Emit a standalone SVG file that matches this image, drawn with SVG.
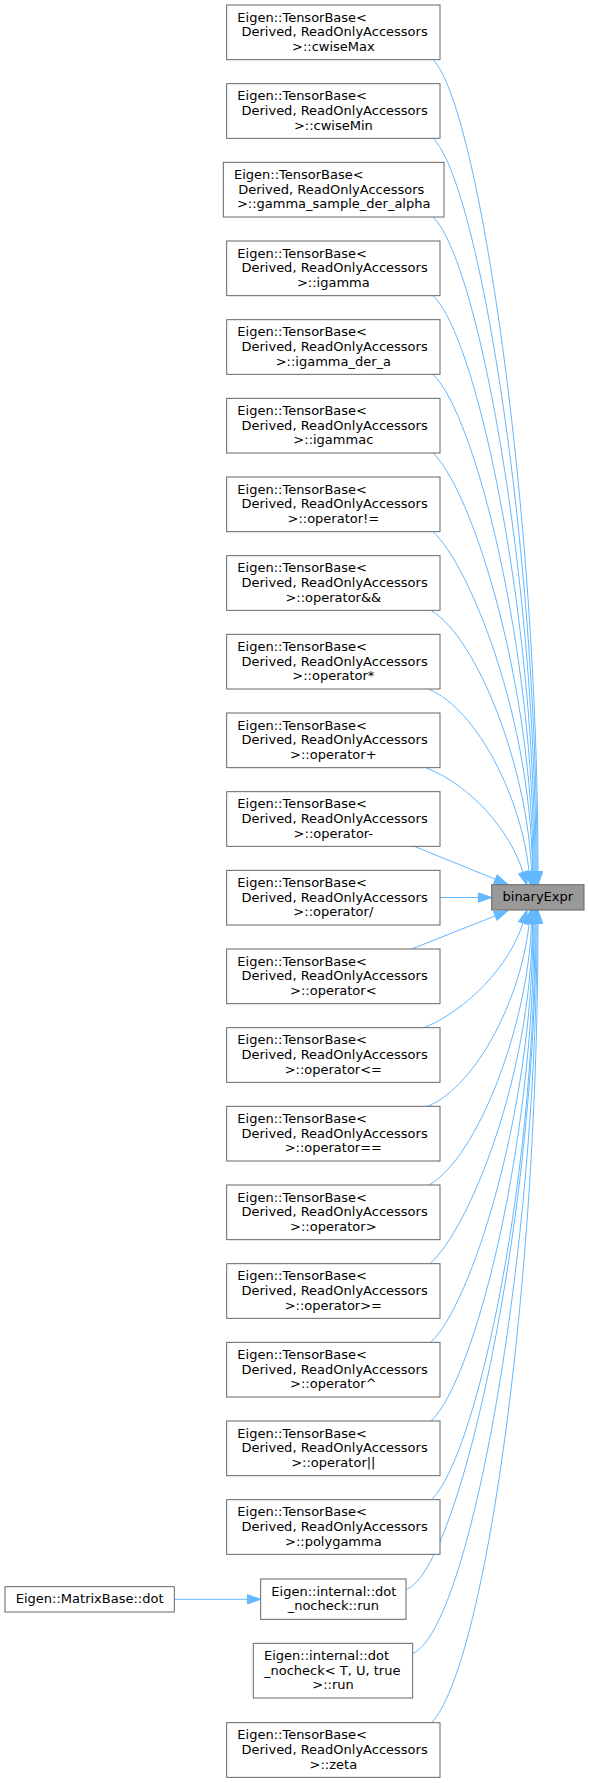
<svg xmlns="http://www.w3.org/2000/svg" width="589" height="1783" viewBox="0 0 589 1783">
<style>
.n rect{fill:#ffffff;stroke:#666666;stroke-width:1}
.cur rect{fill:#999999;stroke:#666666;stroke-width:1}
text{font-family:"DejaVu Sans","Liberation Sans",sans-serif;font-size:13px;fill:#000000}
.m{text-anchor:middle}
.e{fill:none;stroke:#63b8ff;stroke-width:1;marker-end:url(#ah)}
</style>
<defs>
<marker id="ah" markerUnits="userSpaceOnUse" markerWidth="14" markerHeight="10" refX="0" refY="4.67" orient="auto" overflow="visible">
<path d="M0,0 L13.33,4.67 L0,9.33 Z" fill="#63b8ff" stroke="#63b8ff" stroke-width="1"/>
</marker>
</defs>
<rect width="589" height="1783" fill="#ffffff"/>
<g id="edges">
<path class="e" d="M433,59.67 C478,104 538,506.7 538,871.7"/>
<path class="e" d="M433,138.33 C478,181 537,541.7 537,871.7"/>
<path class="e" d="M433,217 C478,260 536,577 536,871.7"/>
<path class="e" d="M433,295.67 C477,337 535,612.5 535,871.7"/>
<path class="e" d="M433,374.33 C475,414 534,648 534,871.7"/>
<path class="e" d="M433,453 C472,490 533,683 533,871.7"/>
<path class="e" d="M433,531.67 C470,566 531,718 532.5,871.7"/>
<path class="e" d="M431,610.5 C478,638 528,770 531.5,871.7"/>
<path class="e" d="M429,689.3 C478,710 522,800 529,871.5"/>
<path class="e" d="M427,768.3 C470,785 510,830 523,872.3"/>
<path class="e" d="M414.3,846.3 L495.4,879.3"/>
<path class="e" d="M440,897.5 L478.4,897.5"/>
<path class="e" d="M411.7,949 L495.3,915.8"/>
<path class="e" d="M424,1027.67 C467,1010.2 510,965.2 523,922.9"/>
<path class="e" d="M427.7,1106.33 C478,1085 522,995 529,923.7"/>
<path class="e" d="M429,1185 C478,1157 528,1025 531.5,923.5"/>
<path class="e" d="M430,1263.67 C469,1229 531,1077 532.5,923.5"/>
<path class="e" d="M430.7,1342.33 C471,1305 533,1112 533,923.5"/>
<path class="e" d="M431,1421 C474,1381 534,1147 534,923.5"/>
<path class="e" d="M431.3,1499.67 C476,1458 535,1183 535,923.5"/>
<path class="e" d="M406.7,1589.3 C460,1568 536,1218 536,923.5"/>
<path class="e" d="M413,1653.3 C470,1628 537,1253 537,923.5"/>
<path class="e" d="M431.7,1722.67 C485,1665 538,1288 538,923.5"/>
<path class="e" d="M174.3,1599.3 L247.4,1599.3"/>
</g>
<g id="binaryExpr" class="cur" transform="translate(491.67,884.7)"><rect width="92.33" height="25.33"/><text class="m" x="46.17" y="16.8">binaryExpr</text></g>
<g id="n0" class="n" transform="translate(226.67,5)"><rect width="213.33" height="54.67"/><text x="10.67" y="16.6">Eigen::TensorBase&lt;</text><text x="14.8" y="31.27">Derived, ReadOnlyAccessors</text><text class="m" x="106.67" y="45.93">&gt;::cwiseMax</text></g>
<g id="n1" class="n" transform="translate(226.67,83.67)"><rect width="213.33" height="54.67"/><text x="10.67" y="16.6">Eigen::TensorBase&lt;</text><text x="14.8" y="31.27">Derived, ReadOnlyAccessors</text><text class="m" x="106.67" y="45.93">&gt;::cwiseMin</text></g>
<g id="n2" class="n" transform="translate(223.33,162.33)"><rect width="220.67" height="54.67"/><text x="10.67" y="16.6">Eigen::TensorBase&lt;</text><text x="14.8" y="31.27">Derived, ReadOnlyAccessors</text><text class="m" x="110.33" y="45.93">&gt;::gamma_sample_der_alpha</text></g>
<g id="n3" class="n" transform="translate(226.67,241)"><rect width="213.33" height="54.67"/><text x="10.67" y="16.6">Eigen::TensorBase&lt;</text><text x="14.8" y="31.27">Derived, ReadOnlyAccessors</text><text class="m" x="106.67" y="45.93">&gt;::igamma</text></g>
<g id="n4" class="n" transform="translate(226.67,319.67)"><rect width="213.33" height="54.67"/><text x="10.67" y="16.6">Eigen::TensorBase&lt;</text><text x="14.8" y="31.27">Derived, ReadOnlyAccessors</text><text class="m" x="106.67" y="45.93">&gt;::igamma_der_a</text></g>
<g id="n5" class="n" transform="translate(226.67,398.33)"><rect width="213.33" height="54.67"/><text x="10.67" y="16.6">Eigen::TensorBase&lt;</text><text x="14.8" y="31.27">Derived, ReadOnlyAccessors</text><text class="m" x="106.67" y="45.93">&gt;::igammac</text></g>
<g id="n6" class="n" transform="translate(226.67,477)"><rect width="213.33" height="54.67"/><text x="10.67" y="16.6">Eigen::TensorBase&lt;</text><text x="14.8" y="31.27">Derived, ReadOnlyAccessors</text><text class="m" x="106.67" y="45.93">&gt;::operator!=</text></g>
<g id="n7" class="n" transform="translate(226.67,555.67)"><rect width="213.33" height="54.67"/><text x="10.67" y="16.6">Eigen::TensorBase&lt;</text><text x="14.8" y="31.27">Derived, ReadOnlyAccessors</text><text class="m" x="106.67" y="45.93">&gt;::operator&amp;&amp;</text></g>
<g id="n8" class="n" transform="translate(226.67,634.33)"><rect width="213.33" height="54.67"/><text x="10.67" y="16.6">Eigen::TensorBase&lt;</text><text x="14.8" y="31.27">Derived, ReadOnlyAccessors</text><text class="m" x="106.67" y="45.93">&gt;::operator*</text></g>
<g id="n9" class="n" transform="translate(226.67,713)"><rect width="213.33" height="54.67"/><text x="10.67" y="16.6">Eigen::TensorBase&lt;</text><text x="14.8" y="31.27">Derived, ReadOnlyAccessors</text><text class="m" x="106.67" y="45.93">&gt;::operator+</text></g>
<g id="n10" class="n" transform="translate(226.67,791.67)"><rect width="213.33" height="54.67"/><text x="10.67" y="16.6">Eigen::TensorBase&lt;</text><text x="14.8" y="31.27">Derived, ReadOnlyAccessors</text><text class="m" x="106.67" y="45.93">&gt;::operator-</text></g>
<g id="n11" class="n" transform="translate(226.67,870.33)"><rect width="213.33" height="54.67"/><text x="10.67" y="16.6">Eigen::TensorBase&lt;</text><text x="14.8" y="31.27">Derived, ReadOnlyAccessors</text><text class="m" x="106.67" y="45.93">&gt;::operator/</text></g>
<g id="n12" class="n" transform="translate(226.67,949)"><rect width="213.33" height="54.67"/><text x="10.67" y="16.6">Eigen::TensorBase&lt;</text><text x="14.8" y="31.27">Derived, ReadOnlyAccessors</text><text class="m" x="106.67" y="45.93">&gt;::operator&lt;</text></g>
<g id="n13" class="n" transform="translate(226.67,1027.67)"><rect width="213.33" height="54.67"/><text x="10.67" y="16.6">Eigen::TensorBase&lt;</text><text x="14.8" y="31.27">Derived, ReadOnlyAccessors</text><text class="m" x="106.67" y="45.93">&gt;::operator&lt;=</text></g>
<g id="n14" class="n" transform="translate(226.67,1106.33)"><rect width="213.33" height="54.67"/><text x="10.67" y="16.6">Eigen::TensorBase&lt;</text><text x="14.8" y="31.27">Derived, ReadOnlyAccessors</text><text class="m" x="106.67" y="45.93">&gt;::operator==</text></g>
<g id="n15" class="n" transform="translate(226.67,1185)"><rect width="213.33" height="54.67"/><text x="10.67" y="16.6">Eigen::TensorBase&lt;</text><text x="14.8" y="31.27">Derived, ReadOnlyAccessors</text><text class="m" x="106.67" y="45.93">&gt;::operator&gt;</text></g>
<g id="n16" class="n" transform="translate(226.67,1263.67)"><rect width="213.33" height="54.67"/><text x="10.67" y="16.6">Eigen::TensorBase&lt;</text><text x="14.8" y="31.27">Derived, ReadOnlyAccessors</text><text class="m" x="106.67" y="45.93">&gt;::operator&gt;=</text></g>
<g id="n17" class="n" transform="translate(226.67,1342.33)"><rect width="213.33" height="54.67"/><text x="10.67" y="16.6">Eigen::TensorBase&lt;</text><text x="14.8" y="31.27">Derived, ReadOnlyAccessors</text><text class="m" x="106.67" y="45.93">&gt;::operator^</text></g>
<g id="n18" class="n" transform="translate(226.67,1421)"><rect width="213.33" height="54.67"/><text x="10.67" y="16.6">Eigen::TensorBase&lt;</text><text x="14.8" y="31.27">Derived, ReadOnlyAccessors</text><text class="m" x="106.67" y="45.93">&gt;::operator||</text></g>
<g id="n19" class="n" transform="translate(226.67,1499.67)"><rect width="213.33" height="54.67"/><text x="10.67" y="16.6">Eigen::TensorBase&lt;</text><text x="14.8" y="31.27">Derived, ReadOnlyAccessors</text><text class="m" x="106.67" y="45.93">&gt;::polygamma</text></g>
<g id="n20" class="n" transform="translate(260.67,1579)"><rect width="145.33" height="40.33"/><text x="10.67" y="16.6">Eigen::internal::dot</text><text class="m" x="72.67" y="31.27">_nocheck::run</text></g>
<g id="n21" class="n" transform="translate(253.33,1643.33)"><rect width="159.33" height="54.67"/><text x="10.67" y="16.6">Eigen::internal::dot</text><text x="10.67" y="31.27">_nocheck&lt; T, U, true</text><text class="m" x="79.67" y="45.93">&gt;::run</text></g>
<g id="n22" class="n" transform="translate(226.67,1722.67)"><rect width="213.33" height="54.67"/><text x="10.67" y="16.6">Eigen::TensorBase&lt;</text><text x="14.8" y="31.27">Derived, ReadOnlyAccessors</text><text class="m" x="106.67" y="45.93">&gt;::zeta</text></g>
<g id="n23" class="n" transform="translate(5,1586.67)"><rect width="169.33" height="25.33"/><text class="m" x="84.67" y="16.6">Eigen::MatrixBase::dot</text></g>
</svg>
